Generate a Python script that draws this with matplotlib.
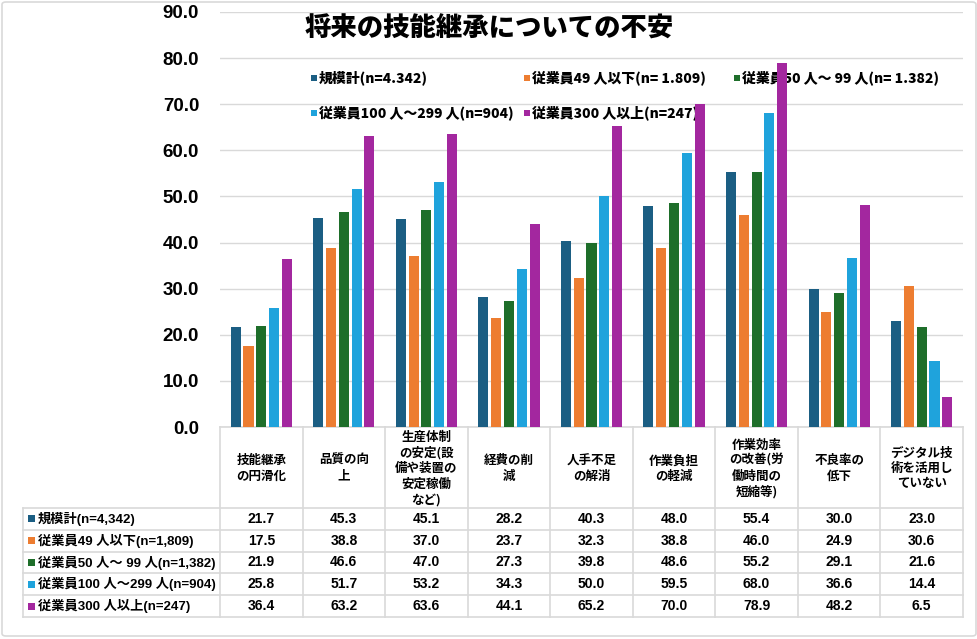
import matplotlib
matplotlib.use("Agg")
import matplotlib.pyplot as plt
from matplotlib.patches import FancyBboxPatch, Rectangle
import numpy as np

# ---------------- data ----------------
categories = [
    "技能継承\nの円滑化",
    "品質の向\n上",
    "生産体制\nの安定(設\n備や装置の\n安定稼働\nなど)",
    "経費の削\n減",
    "人手不足\nの解消",
    "作業負担\nの軽減",
    "作業効率\nの改善(労\n働時間の\n短縮等)",
    "不良率の\n低下",
    "デジタル技\n術を活用し\nていない",
]
table_labels = [
    "規模計(n=4,342)",
    "従業員49 人以下(n=1,809)",
    "従業員50 人～ 99 人(n=1,382)",
    "従業員100 人～299 人(n=904)",
    "従業員300 人以上(n=247)",
]
legend_labels = [
    "規模計(n=4.342)",
    "従業員49 人以下(n= 1.809)",
    "従業員50 人～ 99 人(n= 1.382)",
    "従業員100 人～299 人(n=904)",
    "従業員300 人以上(n=247)",
]
total = [21.7, 45.3, 45.1, 28.2, 40.3, 48.0, 55.4, 30.0, 23.0]
emp_le49 = [17.5, 38.8, 37.0, 23.7, 32.3, 38.8, 46.0, 24.9, 30.6]
emp_50_99 = [21.9, 46.6, 47.0, 27.3, 39.8, 48.6, 55.2, 29.1, 21.6]
emp_100_299 = [25.8, 51.7, 53.2, 34.3, 50.0, 59.5, 68.0, 36.6, 14.4]
emp_ge300 = [36.4, 63.2, 63.6, 44.1, 65.2, 70.0, 78.9, 48.2, 6.5]
series = [total, emp_le49, emp_50_99, emp_100_299, emp_ge300]
yticks = [0, 10, 20, 30, 40, 50, 60, 70, 80, 90]
title = "将来の技能継承についての不安"

colors = ["#1b5e83", "#ed7d31", "#1e6e2a", "#1fa3dc", "#a3279f"]

W, H = 978, 639
fig = plt.figure(figsize=(W / 100, H / 100), dpi=100)

JP = ["Noto Sans CJK JP", "DejaVu Sans"]
MIX = ["Liberation Sans", "Noto Sans CJK JP", "DejaVu Sans"]

def fx(px):
    return px / W

def fy(py):
    return 1 - py / H

# plot area
ax_l, ax_r, ax_t, ax_b = 220, 963, 12, 427
ax = fig.add_axes([fx(ax_l), fy(ax_b), fx(ax_r) - fx(ax_l), fy(ax_t) - fy(ax_b)])
n_cat = len(categories)
x = np.arange(n_cat)
step = 0.155
bw = 0.122
for j, (vals, c) in enumerate(zip(series, colors)):
    ax.bar(x + (j - 2) * step, vals, width=bw, color=c, zorder=3, edgecolor="none")

ax.set_xlim(-0.5, n_cat - 0.5)
ax.set_ylim(0, 90)
ax.set_yticks(yticks)
ax.set_yticklabels([f"{v:.1f}" for v in yticks], fontfamily=MIX,
                   fontweight="bold", fontsize=13.5)
ax.tick_params(axis="y", length=0, pad=15)
ax.set_xticks([])
ax.grid(axis="y", color="#d9d9d9", linewidth=1.0, zorder=0)
for s in ax.spines.values():
    s.set_visible(False)
ax.patch.set_alpha(0)

# title
ax.text(fx(489), fy(27), title, transform=fig.transFigure, ha="center", va="center",
        fontsize=19, fontweight="heavy", fontfamily=JP, zorder=1)

# legend (drawn beneath bars)
leg_pos = [(311, 78), (524, 78), (734, 78), (311, 113), (524, 113)]
sq = 6
for (px, py), lab, c in zip(leg_pos, legend_labels, colors):
    ax.add_patch(Rectangle((fx(px), fy(py + sq / 2)), fx(sq), fy(0) - fy(sq),
                           transform=fig.transFigure, facecolor=c, edgecolor="none",
                           zorder=1, clip_on=False))
    ax.text(fx(px + 8), fy(py), lab, transform=fig.transFigure, ha="left", va="center",
            fontsize=10, fontweight="heavy", fontfamily=JP, zorder=1)

# table
tab = fig.add_axes([0, 0, 1, 1], zorder=-1)
tab.set_xlim(0, W)
tab.set_ylim(H, 0)
tab.axis("off")
gc = "#d9d9d9"
lw = 1.2
col_w = (ax_r - ax_l) / n_cat
col_edges = [ax_l + i * col_w for i in range(n_cat + 1)]
tbl_left = 23
hdr_top, hdr_bot = ax_b, 508
row_h = 21.8
row_edges = [hdr_bot + k * row_h for k in range(len(series) + 1)]
tbl_bot = row_edges[-1]

tab.plot([ax_l, ax_r], [hdr_top, hdr_top], color=gc, lw=lw)
for yv in row_edges:
    tab.plot([tbl_left, ax_r], [yv, yv], color=gc, lw=lw)
for xv in col_edges:
    tab.plot([xv, xv], [hdr_top, tbl_bot], color=gc, lw=lw)
tab.plot([tbl_left, tbl_left], [hdr_bot, tbl_bot], color=gc, lw=lw)

for i, cat in enumerate(categories):
    cx = (col_edges[i] + col_edges[i + 1]) / 2
    tab.text(cx, (hdr_top + hdr_bot) / 2 + 1, cat, ha="center", va="center",
             fontsize=9, fontweight="bold", fontfamily=JP, linespacing=1.25)

for k, (lab, vals, c) in enumerate(zip(table_labels, series, colors)):
    cy = (row_edges[k] + row_edges[k + 1]) / 2
    tab.add_patch(Rectangle((28, cy - 3.5), 7, 7, facecolor=c, edgecolor="none"))
    tab.text(38, cy, lab, ha="left", va="center", fontsize=9.5,
             fontweight="bold", fontfamily=MIX)
    for i, v in enumerate(vals):
        cx = (col_edges[i] + col_edges[i + 1]) / 2
        tab.text(cx, cy, f"{v:.1f}", ha="center", va="center", fontsize=10,
                 fontweight="bold", fontfamily=MIX)

# outer frame
frame = FancyBboxPatch((fx(2), fy(636)), fx(974), fy(2) - fy(636),
                       boxstyle="round,pad=0,rounding_size=0.004",
                       transform=fig.transFigure, fill=False,
                       edgecolor="#d9d9d9", linewidth=1.2)
fig.patches.append(frame)

fig.savefig("out.png", dpi=100, facecolor="white")
